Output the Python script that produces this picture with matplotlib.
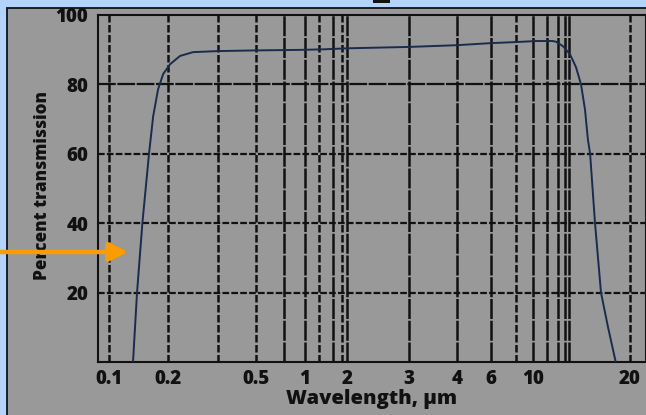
import numpy as np
import matplotlib
matplotlib.use("Agg")
import matplotlib.pyplot as plt
from matplotlib.patches import Rectangle

# ---------------- data ----------------
wavelength_um = [0.1326, 0.139, 0.148, 0.160, 0.168, 0.178, 0.189, 0.2033, 0.2205, 0.245,
                 0.3, 0.5, 0.918, 1.28, 2.0, 3.0, 4.0, 6.0, 8.0, 10.2, 11.49, 11.81,
                 12.71, 14.08, 14.58, 15.02, 15.37, 15.64, 15.84, 16.3, 16.88, 17.59, 18.4]
transmission_pct = [0, 20, 40, 60, 70.8, 78.6, 83, 85.8, 88.2, 89.3,
                    89.6, 89.8, 89.95, 90.1, 90.4, 90.8, 91.3, 91.9, 92.2, 92.5, 92.5, 92.3,
                    91.0, 88.7, 85.0, 80.0, 72.8, 64.0, 60.0, 40.0, 20.0, 10.0, 0]

xtick_values = [0.1, 0.2, 0.5, 1, 2, 3, 4, 6, 10, 20]
xtick_labels = ["0.1", "0.2", "0.5", "1", "2", "3", "4", "6", "10", "20"]
ytick_values = [20, 40, 60, 80, 100]
ytick_labels = ["20", "40", "60", "80", "100"]
grid_dashed = [0.1, 0.2, 0.3, 0.5, 1.2, 1.8, 8, 20]
grid_solid = [0.7, 1, 1.5, 2, 3, 4, 6, 10, 11, 12, 13, 14]

# ------------- irregular (hand-drawn) wavelength scale -------------
scale_wl = np.array([0.0879, 0.1, 0.2, 0.3, 0.5, 0.7, 1, 1.2, 1.5, 1.8, 2, 3, 4, 6,
                     8, 10, 11, 12, 13, 14, 20, 22])
scale_pos = np.array([98, 109, 168, 218, 256, 284, 305, 319, 333, 342, 347, 409, 457,
                      491, 516, 533, 547, 558, 565, 569, 630, 646], dtype=float)
log_wl = np.log10(scale_wl)


def forward(w):
    w = np.clip(np.asarray(w, dtype=float), 1e-6, None)
    return np.interp(np.log10(w), log_wl, scale_pos)


def inverse(p):
    return 10 ** np.interp(np.asarray(p, dtype=float), scale_pos, log_wl)


W, H = 646, 415
BLUE = "#b3d3fb"
GRAY = "#999999"
INK = "#111111"
LINE = "#1b2b4d"
ORANGE = "#fb9c00"
FW = 800

plt.rcParams['font.family'] = ['Open Sans', 'DejaVu Sans']

fig = plt.figure(figsize=(W / 100, H / 100), dpi=100)
fig.patch.set_facecolor(BLUE)

# gray panel with black border
fig.add_artist(Rectangle((7 / W, -0.1), 1.2, 1 - 8 / H + 0.1, transform=fig.transFigure,
                         facecolor=GRAY, edgecolor=INK, linewidth=1.3, zorder=0))
# small black fragment at top
fig.add_artist(Rectangle((373 / W, 1 - 3 / H), 17 / W, 3 / H, transform=fig.transFigure,
                         facecolor=INK, edgecolor='none', zorder=1))

ax = fig.add_axes([98 / W, 1 - 362 / H, 548 / W, (362 - 15) / H])
ax.set_facecolor(GRAY)
ax.set_xscale('function', functions=(forward, inverse))
ax.set_xlim(scale_wl[0], scale_wl[-1])
ax.set_ylim(0, 100)

for w in grid_dashed:
    ax.axvline(w, color=INK, lw=1.8, ls=(0, (3, 1)), zorder=1)
for w in grid_solid:
    ax.axvline(w, color=INK, lw=1.8, ls=(0, (8, 0.7)), zorder=1)
for y in [20, 40, 60]:
    ax.axhline(y, color=INK, lw=1.6, ls=(0, (3, 1)), zorder=1)
ax.axhline(80, color=INK, lw=1.6, ls=(0, (8, 0.7)), zorder=1)

ax.plot(wavelength_um, transmission_pct, color=LINE, lw=1.4, zorder=3)

ax.set_xticks(xtick_values)
ax.set_xticklabels(xtick_labels, fontsize=13.5, fontweight=FW, color=INK)
ax.set_yticks(ytick_values)
ax.set_yticklabels(ytick_labels, fontsize=13.5, fontweight=FW, color=INK)
ax.xaxis.set_minor_locator(matplotlib.ticker.NullLocator())
ax.tick_params(axis='both', length=0)
ax.tick_params(axis='x', pad=5)
ax.tick_params(axis='y', pad=7)
for s in ax.spines.values():
    s.set_color(INK)
    s.set_linewidth(1.5)

ax.set_xlabel("Wavelength, µm", fontsize=14.5, fontweight=FW, color=INK, labelpad=0)
ax.set_ylabel("Percent transmission", fontsize=12.3, fontweight=FW, color=INK)
ax.yaxis.set_label_coords(-0.085, 0.51)

# orange arrow
ax.annotate("", xy=(128 / W, 1 - 252 / H), xytext=(-0.01, 1 - 252 / H),
            xycoords='figure fraction', textcoords='figure fraction',
            arrowprops=dict(arrowstyle='-|>', color=ORANGE, lw=3.2, mutation_scale=28,
                            shrinkA=0, shrinkB=0),
            annotation_clip=False, zorder=10)

fig.savefig("out.png", dpi=100, facecolor=fig.get_facecolor())
